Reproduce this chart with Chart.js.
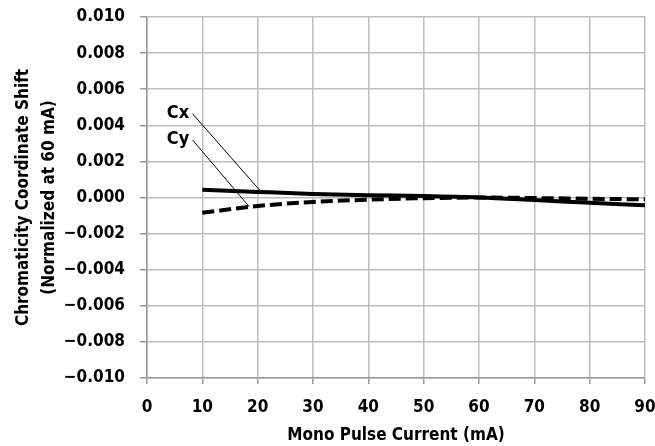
<!DOCTYPE html>
<html>
<head>
<meta charset="utf-8">
<script src="https://cdn.jsdelivr.net/npm/chart.js@4"></script>
<style>
  html, body { margin:0; padding:0; background:#fff; }
  #wrap { width:655px; height:446px; }
</style>
</head>
<body>
<div id="wrap"><canvas id="chart" width="655" height="446"></canvas></div>
<script>
// —————— DATA ——————
const currents = [10, 20, 30, 40, 50, 60, 70, 80, 90];
const cxShift  = [0.00043, 0.00031, 0.00020, 0.00013, 0.00008, 0.00000, -0.00014, -0.00029, -0.00043];
const cyShift  = [-0.00085, -0.00047, -0.00025, -0.00012, -0.00004, 0.00000, -0.00003, -0.00007, -0.00010];
const xTicks   = [0, 10, 20, 30, 40, 50, 60, 70, 80, 90];
const yTicks   = [-0.010, -0.008, -0.006, -0.004, -0.002, 0, 0.002, 0.004, 0.006, 0.008, 0.010];
const seriesNames = ['Cx', 'Cy'];

// —————— STYLE ——————
const FONT = "'DejaVu Sans Condensed', 'Liberation Sans Narrow', sans-serif";
const GRID = '#bdbdbd';

function fmtTick(v) {
  const s = Math.abs(v).toFixed(3);
  return v < -1e-9 ? '\u2212' + s : s;
}

// label callouts: text position and leader line, in data units
const callouts = [
  { text: seriesNames[0], tx: 5.6, ty: 0.00465, from: [8.2, 0.00465], to: [20.5, 0.00036] },
  { text: seriesNames[1], tx: 5.6, ty: 0.00320, from: [8.2, 0.00320], to: [18.5, -0.00052] }
];

const calloutPlugin = {
  id: 'callouts',
  afterDatasetsDraw(chart) {
    const { ctx, scales: { x, y } } = chart;
    ctx.save();
    callouts.forEach(c => {
      ctx.beginPath();
      ctx.strokeStyle = '#000';
      ctx.lineWidth = 1;
      ctx.moveTo(x.getPixelForValue(c.from[0]), y.getPixelForValue(c.from[1]));
      ctx.lineTo(x.getPixelForValue(c.to[0]), y.getPixelForValue(c.to[1]));
      ctx.stroke();
      ctx.font = 'bold 18px ' + FONT;
      const px = x.getPixelForValue(c.tx), py = y.getPixelForValue(c.ty);
      const w = ctx.measureText(c.text).width;
      ctx.fillStyle = '#fff';
      ctx.fillRect(px - w / 2 - 3, py - 9, w + 6, 18);
      ctx.fillStyle = '#000';
      ctx.textAlign = 'center';
      ctx.textBaseline = 'middle';
      ctx.fillText(c.text, px, py);
    });
    ctx.restore();
  }
};

// —————— CHART ——————
new Chart(document.getElementById('chart'), {
  type: 'line',
  data: {
    datasets: [
      {
        label: seriesNames[0],
        data: currents.map((c, i) => ({ x: c, y: cxShift[i] })),
        borderColor: '#000', borderWidth: 4,
        pointRadius: 0, cubicInterpolationMode: 'monotone'
      },
      {
        label: seriesNames[1],
        data: currents.map((c, i) => ({ x: c, y: cyShift[i] })),
        borderColor: '#000', borderWidth: 4, borderDash: [12, 5],
        pointRadius: 0, cubicInterpolationMode: 'monotone'
      }
    ]
  },
  options: {
    responsive: false,
    animation: false,
    layout: { padding: { left: 11, right: 10, top: 17, bottom: 0 } },
    plugins: { legend: { display: false }, tooltip: { enabled: false } },
    scales: {
      x: {
        type: 'linear', min: 0, max: 90,
        afterBuildTicks: a => { a.ticks = xTicks.map(v => ({ value: v })); },
        afterFit: s => { s.height = 68; s.paddingLeft = 0; s.paddingRight = 0; },
        grid: { color: GRID, lineWidth: 1.5, tickLength: 6, tickColor: '#999' },
        border: { color: '#999', width: 1.5 },
        ticks: { color: '#000', font: { family: FONT, size: 17, weight: 'bold' }, padding: 13, maxRotation: 0 },
        title: { display: true, text: 'Mono Pulse Current (mA)', color: '#000',
                 font: { family: FONT, size: 17, weight: 'bold' }, padding: { top: 0, bottom: 0 } }
      },
      y: {
        type: 'linear', min: -0.010, max: 0.010,
        afterBuildTicks: a => { a.ticks = yTicks.map(v => ({ value: v })); },
        afterFit: s => { s.width = 136; s.paddingTop = 0; s.paddingBottom = 0; },
        grid: { color: GRID, lineWidth: 1.5, tickLength: 7, tickColor: '#999' },
        border: { color: '#999', width: 1.5 },
        ticks: { color: '#000', font: { family: FONT, size: 17, weight: 'bold' }, padding: 15, callback: fmtTick },
        title: { display: true, text: ['Chromaticity Coordinate Shift', '(Normalized at 60 mA)'], color: '#000',
                 font: { family: FONT, size: 17, weight: 'bold', lineHeight: 1.5 }, padding: { top: 0, bottom: 6 } }
      }
    }
  },
  plugins: [calloutPlugin]
});
</script>
</body>
</html>
